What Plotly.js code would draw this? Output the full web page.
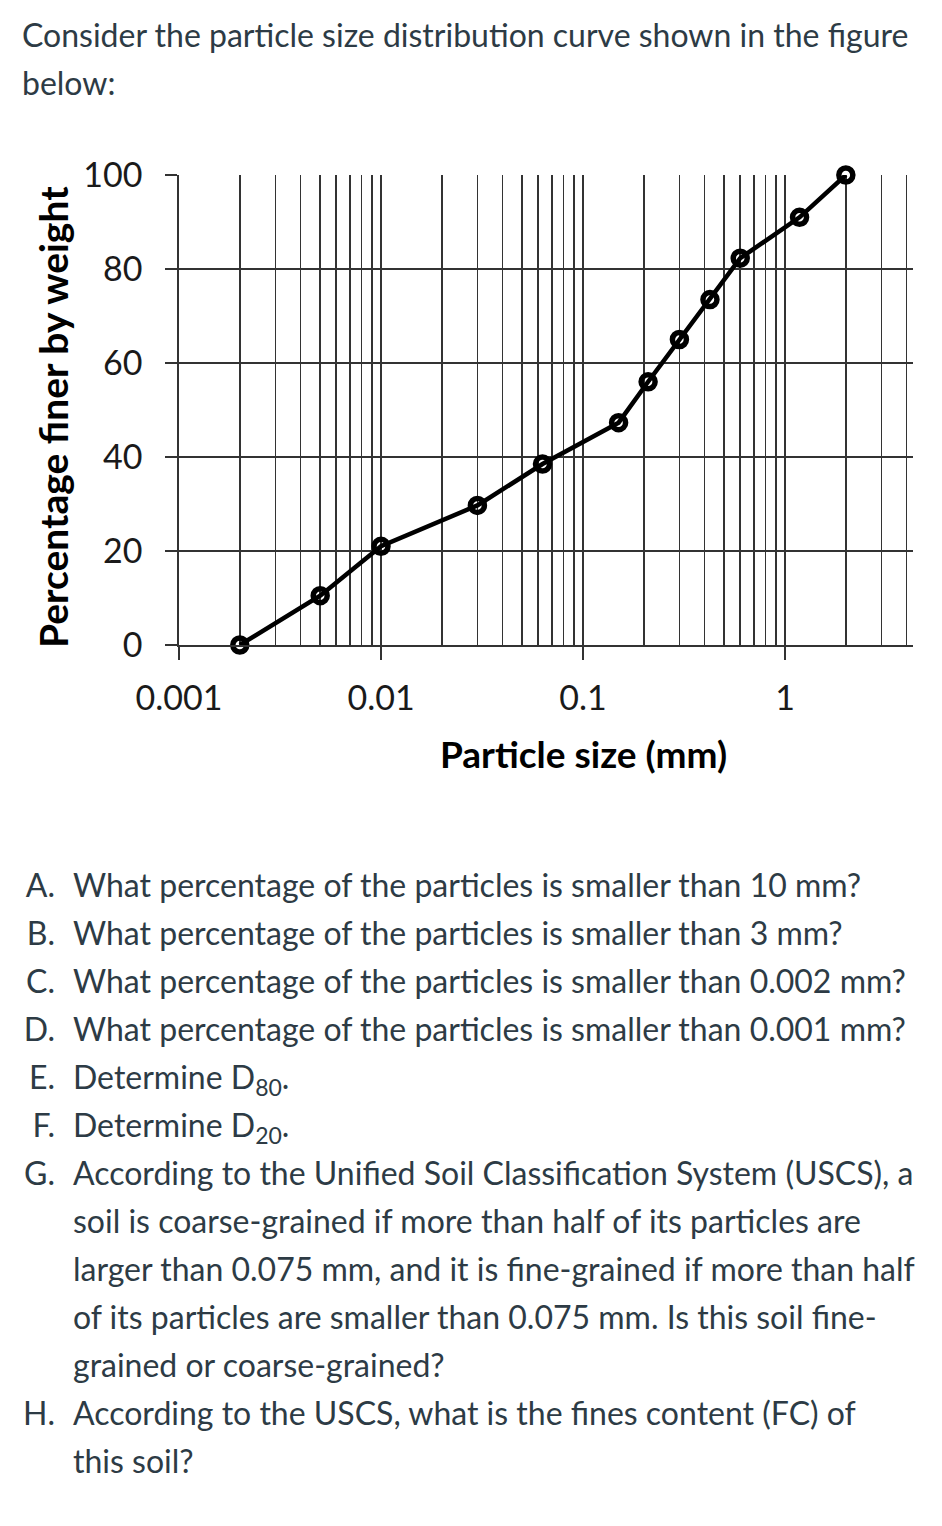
<!DOCTYPE html>
<html>
<head>
<meta charset="utf-8">
<script src="https://cdn.plot.ly/plotly-3.0.1.min.js"></script>
<style>
  html, body { margin: 0; padding: 0; background: #fff; }
  body { width: 942px; height: 1526px; position: relative; font-family: Lato, "Open Sans", sans-serif; color: #2d3b45; }
  #intro { position: absolute; left: 22px; top: 11px; width: 900px; font-size: 32px; line-height: 48px; white-space: nowrap; }
  #chart { position: absolute; left: 0; top: 150px; width: 942px; height: 650px; }
  #questions { position: absolute; left: 73px; top: 861px; margin: 0; padding: 0; list-style: none;
               font-size: 32px; line-height: 48px; white-space: nowrap; }
  #questions li { position: relative; }
  #questions .lbl { position: absolute; left: -73px; width: 55px; text-align: right; }
  sub { font-size: 23px; line-height: 0; vertical-align: -7px; }
</style>
</head>
<body>
<div id="intro">Consider the particle size distribution curve shown in the figure<br>below:</div>
<div id="chart"></div>
<ol id="questions">
  <li><span class="lbl">A.</span>What percentage of the particles is smaller than 10 mm?</li>
  <li><span class="lbl">B.</span>What percentage of the particles is smaller than 3 mm?</li>
  <li><span class="lbl">C.</span>What percentage of the particles is smaller than 0.002 mm?</li>
  <li><span class="lbl">D.</span>What percentage of the particles is smaller than 0.001 mm?</li>
  <li><span class="lbl">E.</span>Determine D<sub>80</sub>.</li>
  <li><span class="lbl">F.</span>Determine D<sub>20</sub>.</li>
  <li><span class="lbl">G.</span>According to the Unified Soil Classification System (USCS), a<br>soil is coarse-grained if more than half of its particles are<br>larger than 0.075 mm, and it is fine-grained if more than half<br>of its particles are smaller than 0.075 mm. Is this soil fine-<br>grained or coarse-grained?</li>
  <li><span class="lbl">H.</span>According to the USCS, what is the fines content (FC) of<br>this soil?</li>
</ol>
<script>
// particle size (mm) and percent finer
var sizeMm = [0.002, 0.005, 0.01, 0.03, 0.063, 0.15, 0.21, 0.3, 0.425, 0.6, 1.18, 2.0];
var percentFiner = [0, 10.5, 21, 29.7, 38.5, 47.3, 56, 65, 73.5, 82.3, 91, 100];

var xTickVals = [0.001, 0.01, 0.1, 1];
var xTickText = ['0.001', '0.01', '0.1', '1'];
var yTickVals = [0, 20, 40, 60, 80, 100];

var gridCol = '#333333';
var chartFont = 'Lato, "Open Sans", sans-serif';

var trace = {
  x: sizeMm,
  y: percentFiner,
  type: 'scatter',
  mode: 'lines+markers',
  cliponaxis: false,
  line: { color: '#000', width: 4.5 },
  marker: { symbol: 'circle-open', size: 14, color: '#000', line: { width: 5.5, color: '#000' } },
  hoverinfo: 'x+y'
};

var layout = {
  width: 942,
  height: 650,
  margin: { l: 179, r: 29, t: 25, b: 155 },
  paper_bgcolor: 'rgba(0,0,0,0)',
  plot_bgcolor: '#fff',
  showlegend: false,
  font: { family: chartFont, color: '#1a1a1a', size: 34 },
  xaxis: {
    type: 'log',
    range: [-3, Math.log10(4.3)],
    tickvals: xTickVals,
    ticktext: xTickText,
    ticks: 'outside',
    ticklen: 13,
    tickwidth: 1.8,
    tickcolor: gridCol,
    ticklabelstandoff: 9,
    showgrid: true,
    gridcolor: gridCol,
    gridwidth: 1.8,
    showline: true,
    linecolor: gridCol,
    linewidth: 1.8,
    zeroline: false,
    minor: { dtick: 'D1', showgrid: true, gridcolor: gridCol, gridwidth: 1.6, ticks: '' }
  },
  yaxis: {
    range: [0, 100],
    tickvals: yTickVals,
    ticks: 'outside',
    ticklen: 12,
    tickwidth: 1.8,
    tickcolor: gridCol,
    ticklabelstandoff: 16,
    showgrid: true,
    gridcolor: gridCol,
    gridwidth: 1.8,
    showline: true,
    linecolor: gridCol,
    linewidth: 1.8,
    zeroline: false
  },
  annotations: [
    {
      text: '<b>Particle size (mm)</b>',
      xref: 'x', yref: 'paper',
      x: -1, y: 0, yshift: -108,
      xanchor: 'center', yanchor: 'middle',
      showarrow: false,
      font: { family: chartFont, size: 37, color: '#000' }
    },
    {
      text: '<b>Percentage finer by weight</b>',
      xref: 'paper', yref: 'paper',
      x: 0, y: 0.5, xshift: -126, yshift: -7,
      xanchor: 'center', yanchor: 'middle',
      textangle: -90,
      showarrow: false,
      font: { family: chartFont, size: 39, color: '#000' }
    }
  ]
};

Plotly.newPlot('chart', [trace], layout, { staticPlot: true });
</script>
</body>
</html>
